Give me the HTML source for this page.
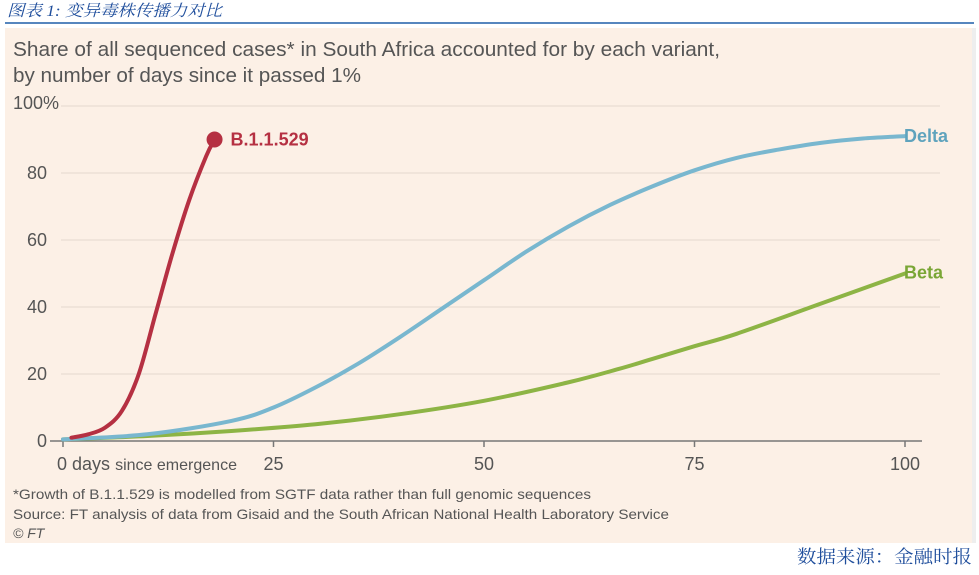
<!DOCTYPE html>
<html><head><meta charset="utf-8"><style>
body{margin:0;width:979px;height:570px;background:#fff;overflow:hidden;font-family:"Liberation Sans",sans-serif}
</style></head><body>
<svg width="979" height="570" xmlns="http://www.w3.org/2000/svg">
<text x="7" y="16" font-size="16" font-style="italic" fill="#1f4e9c" textLength="215" lengthAdjust="spacingAndGlyphs" font-family="'Liberation Serif','Noto Serif CJK SC',serif">图表 1:  变异毒株传播力对比</text>
<line x1="5" y1="23" x2="974" y2="23" stroke="#1f5fa8" stroke-width="1.5"/>
<rect x="5" y="28" width="967" height="515" fill="#fcf0e6"/>
<rect x="972" y="28" width="4" height="515" fill="#eee"/>
<text x="13" y="56" font-size="20" fill="#555" textLength="707" lengthAdjust="spacingAndGlyphs">Share of all sequenced cases* in South Africa accounted for by each variant,</text>
<text x="13" y="82" font-size="20" fill="#555" textLength="348" lengthAdjust="spacingAndGlyphs">by number of days since it passed 1%</text>
<g id="grid"></g><g id="series"></g>
<text x="13" y="499" font-size="14" fill="#555" textLength="578" lengthAdjust="spacingAndGlyphs">*Growth of B.1.1.529 is modelled from SGTF data rather than full genomic sequences</text>
<text x="13" y="519" font-size="14" fill="#555" textLength="656" lengthAdjust="spacingAndGlyphs">Source: FT analysis of data from Gisaid and the South African National Health Laboratory Service</text>
<text x="13" y="538" font-size="14" font-style="italic" fill="#555">© FT</text>
<text x="972" y="563" text-anchor="end" font-size="18" fill="#1f4e9c" textLength="175" lengthAdjust="spacingAndGlyphs" font-family="'Liberation Serif','Noto Serif CJK SC',serif">数据来源：金融时报</text>
</svg>
<script>
const yTicks=[0,20,40,60,80,100];
const yTickLabels=["0","20","40","60","80","100%"];
const xTicks=[0,25,50,75,100];
const xTickLabels=["0","25","50","75","100"];
const omicronDays=[1,3,5,7,9,11,13,15,17,18];
const omicronVals=[1,2,4,9,20,38,56,72,85,90];
const deltaDays=[0,10,20,25,30,35,40,45,50,55,60,65,70,75,80,85,90,95,100];
const deltaVals=[0.5,2,6,10,16,23,31,39.5,48,56.5,64,70.5,76,80.8,84.5,87,89,90.3,91];
const betaDays=[0,10,20,30,40,50,60,66,70,75,80,90,100];
const betaVals=[0.5,1.5,3,5,8,12,17.5,21.5,24.5,28.3,32,41,50];
const NS="http://www.w3.org/2000/svg";
const X=d=>63+d*8.42, Y=v=>441-v*3.35;
function mk(t,a,p){const e=document.createElementNS(NS,t);for(const k in a)e.setAttribute(k,a[k]);p.appendChild(e);return e;}
const g=document.getElementById('grid'), s=document.getElementById('series');
yTicks.forEach((v,i)=>{
 if(v>0){const l=mk('line',{x1:X(0)-2,x2:940,y1:Y(v),y2:Y(v),stroke:'#e3d8cf','stroke-width':1},g);
 
 }
 const t=mk('text',{x:v===100?13:47,y:Y(v)+(v===100?3:6),'font-size':18,fill:'#555','text-anchor':v===100?'start':'end'},g);t.textContent=yTickLabels[i];
 
 
});
const ax=mk('line',{x1:50,x2:922,y1:Y(0),y2:Y(0),stroke:'#777','stroke-width':1.5},g);


xTicks.forEach((d,i)=>{
 const tk=mk('line',{x1:X(d),x2:X(d),y1:Y(0),y2:Y(0)+6,stroke:'#777','stroke-width':1.5},g);
 
 
 const t=mk('text',{x:X(d),y:470,'font-size':18,fill:'#555','text-anchor':'middle'},g);t.textContent=xTickLabels[i];
 if(d===0){t.setAttribute('x',X(0)-6);t.setAttribute('text-anchor','start');t.setAttribute('textLength','180');t.setAttribute('lengthAdjust','spacingAndGlyphs');t.innerHTML='0 days <tspan font-size="16">since emergence</tspan>';}
 
 
});
function line(days,vals,col,name){
 const pts=days.map((d,i)=>[X(d),Y(vals[i])]);
 let p='M'+pts[0];for(let i=1;i<pts.length;i++){const a=pts[i-2]||pts[i-1],b=pts[i-1],c=pts[i],e=pts[i+1]||c;
 p+=`C${b[0]+(c[0]-a[0])/6},${b[1]+(c[1]-a[1])/6} ${c[0]-(e[0]-b[0])/6},${c[1]-(e[1]-b[1])/6} ${c[0]},${c[1]}`;}
 const el=mk('path',{d:p,fill:'none',stroke:col,'stroke-width':4,'stroke-linecap':'round'},s);
 
 
}
line(betaDays,betaVals,'#8db445','beta-line');
line(deltaDays,deltaVals,'#79b7cf','delta-line');
line(omicronDays,omicronVals,'#b53042','b11529-line');
const lo=omicronDays.length-1;
const dot=mk('circle',{cx:X(omicronDays[lo]),cy:Y(omicronVals[lo]),r:8,fill:'#b53042'},s);


function lab(txt,x,y,col,name){const t=mk('text',{x:x,y:y,'font-size':18,'font-weight':'bold',fill:col},s);t.textContent=txt;
 
 }
lab('B.1.1.529',X(omicronDays[lo])+16,Y(omicronVals[lo])+6,'#b53042','b11529-label');
lab('Delta',X(100)-1,Y(deltaVals[deltaVals.length-1])+6,'#5fa3bd','delta-label');
lab('Beta',X(100)-1,Y(betaVals[betaVals.length-1])+5,'#7aa636','beta-label');
</script>
</body></html>
